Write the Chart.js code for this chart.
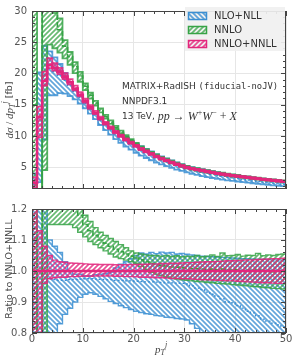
<!DOCTYPE html>
<html>
<head>
<meta charset="utf-8">
<script src="https://cdn.jsdelivr.net/npm/chart.js@4.4.1/dist/chart.umd.min.js"></script>
<style>
  html, body { margin: 0; padding: 0; background: #fff; }
  #wrap { position: relative; width: 293px; height: 358px; }
  canvas { position: absolute; left: 0; }
  #top { top: 0; }
  #bottom { top: 198px; }
</style>
</head>
<body>
<div id="wrap">
  <canvas id="top" width="293" height="200"></canvas>
  <canvas id="bottom" width="293" height="160"></canvas>
</div>
<script>
'use strict';

// bin edges in p_T^j [GeV], 1 GeV bins
var binEdges = [0, 1, 2, 3, 4, 5, 6, 7, 8, 9, 10, 11, 12, 13, 14, 15, 16, 17, 18, 19, 20,
  21, 22, 23, 24, 25, 26, 27, 28, 29, 30, 31, 32, 33, 34, 35, 36, 37, 38, 39, 40,
  41, 42, 43, 44, 45, 46, 47, 48, 49, 50];
var xTicks = [0, 10, 20, 30, 40, 50];
var topTicks = [5, 10, 15, 20, 25, 30];
var ratioTicks = [0.8, 0.9, 1.0, 1.1, 1.2];

// NNLO+NNLL central value, dsigma/dpT [fb]
var nnllCentral = [2.5, 13.0, 18.8, 21.4, 20.9, 20.3, 19.5, 18.6, 17.6, 16.6,
  15.6, 14.6, 13.7, 12.8, 12.0, 11.3, 10.6, 10.0, 9.4, 8.9,
  8.4, 7.9, 7.5, 7.1, 6.7, 6.35, 6.05, 5.75, 5.45, 5.2,
  4.95, 4.75, 4.6, 4.45, 4.3, 4.15, 4.0, 3.88, 3.76, 3.65,
  3.55, 3.45, 3.35, 3.25, 3.15, 3.06, 2.97, 2.88, 2.8, 2.72];

// everything below is a ratio to the NNLO+NNLL central value
var nnllMid = nnllCentral.map(function () { return 1; });
var nnllHi = [1.35, 1.13, 1.08, 1.05, 1.035, 1.03, 1.028, 1.026, 1.025, 1.024,
  1.023, 1.022, 1.022, 1.021, 1.021, 1.021, 1.02, 1.02, 1.02, 1.021,
  1.021, 1.022, 1.022, 1.023, 1.023, 1.024, 1.024, 1.025, 1.025, 1.026,
  1.027, 1.027, 1.028, 1.029, 1.03, 1.03, 1.031, 1.032, 1.033, 1.033,
  1.034, 1.035, 1.036, 1.036, 1.037, 1.038, 1.039, 1.04, 1.04, 1.041];
var nnllLo = [0.7, 0.75, 0.96, 0.975, 0.978, 0.98, 0.98, 0.982, 0.982, 0.983,
  0.983, 0.983, 0.984, 0.984, 0.984, 0.984, 0.983, 0.983, 0.982, 0.982,
  0.981, 0.98, 0.98, 0.979, 0.978, 0.978, 0.977, 0.976, 0.976, 0.975,
  0.975, 0.974, 0.973, 0.972, 0.972, 0.971, 0.97, 0.969, 0.968, 0.968,
  0.967, 0.966, 0.965, 0.964, 0.963, 0.962, 0.962, 0.961, 0.96, 0.96];

var nnloMid = [6.0, 0.04, 2.0, 1.5, 1.42, 1.33, 1.25, 1.22, 1.2, 1.18,
  1.15, 1.13, 1.115, 1.1, 1.09, 1.08, 1.07, 1.062, 1.055, 1.048,
  1.042, 1.036, 1.03, 1.025, 1.021, 1.018, 1.016, 1.013, 1.012, 1.01,
  1.009, 1.008, 1.008, 1.006, 1.005, 1.006, 1.004, 1.006, 1.003, 1.003,
  1.004, 1.001, 1.002, 1.0, 1.003, 0.999, 1.0, 0.998, 0.999, 0.998];
var nnloHi = [14, 0.08, 2.6, 1.6, 1.5, 1.42, 1.3, 1.26, 1.24, 1.22,
  1.18, 1.16, 1.14, 1.125, 1.115, 1.105, 1.095, 1.085, 1.075, 1.065,
  1.058, 1.055, 1.052, 1.05, 1.05, 1.048, 1.05, 1.047, 1.049, 1.046,
  1.048, 1.047, 1.05, 1.046, 1.048, 1.052, 1.047, 1.058, 1.049, 1.05,
  1.053, 1.048, 1.051, 1.05, 1.057, 1.049, 1.052, 1.05, 1.053, 1.055];
var nnloLo = [-2, -0.2, 0.24, 1.15, 1.15, 1.15, 1.15, 1.15, 1.14, 1.125,
  1.11, 1.095, 1.085, 1.075, 1.065, 1.055, 1.045, 1.04, 1.035, 1.03,
  1.025, 1.015, 1.005, 0.996, 0.99, 0.985, 0.98, 0.977, 0.974, 0.972,
  0.97, 0.968, 0.966, 0.965, 0.963, 0.962, 0.96, 0.959, 0.958, 0.956,
  0.955, 0.953, 0.952, 0.95, 0.949, 0.947, 0.946, 0.944, 0.943, 0.942];

var nllMid = [0.9, 0.95, 1.05, 0.975, 0.972, 0.97, 0.97, 0.972, 0.973, 0.974,
  0.975, 0.975, 0.974, 0.973, 0.972, 0.972, 0.97, 0.97, 0.968, 0.968,
  0.967, 0.966, 0.965, 0.965, 0.964, 0.963, 0.962, 0.962, 0.961, 0.96,
  0.958, 0.952, 0.945, 0.94, 0.932, 0.925, 0.918, 0.91, 0.9, 0.897,
  0.888, 0.88, 0.87, 0.865, 0.855, 0.845, 0.838, 0.832, 0.826, 0.82];
var nllHi = [1.6, 1.55, 1.3, 1.1, 1.08, 1.06, 1.03, 1.0, 0.99, 0.99,
  0.985, 0.985, 0.988, 0.99, 0.992, 0.997, 1.01, 1.022, 1.03, 1.04,
  1.05, 1.058, 1.055, 1.06, 1.056, 1.061, 1.058, 1.06, 1.055, 1.057,
  1.054, 1.052, 1.05, 1.048, 1.047, 1.046, 1.045, 1.044, 1.043, 1.042,
  1.041, 1.04, 1.04, 1.039, 1.038, 1.038, 1.037, 1.036, 1.036, 1.035];
var nllLo = [0.4, 0.2, 0.5, 0.77, 0.79, 0.83, 0.86, 0.88, 0.9, 0.915,
  0.925, 0.93, 0.925, 0.918, 0.91, 0.902, 0.895, 0.888, 0.882, 0.876,
  0.87, 0.866, 0.862, 0.86, 0.856, 0.855, 0.851, 0.85, 0.847, 0.845,
  0.842, 0.83, 0.815, 0.8, 0.79, 0.785, 0.78, 0.775, 0.77, 0.765,
  0.76, 0.755, 0.75, 0.745, 0.74, 0.735, 0.73, 0.725, 0.72, 0.715];

var SANS = '"DejaVu Sans", sans-serif';
var MONO = '"DejaVu Sans Mono", monospace';
var SERIF = '"Liberation Serif", serif';
var GRID = '#e6e6e6';
var TICKTXT = '#555';

function hatch(color, dir, s) {
  var c = document.createElement('canvas');
  c.width = s; c.height = s;
  var g = c.getContext('2d');
  g.strokeStyle = color;
  g.lineWidth = 1.7;
  g.beginPath();
  for (var k = -1; k <= 2; k++) {
    var d = k * s;
    if (dir > 0) { g.moveTo(d + 1, -1); g.lineTo(-1, d + 1); }
    else { g.moveTo(d - s - 1, -1); g.lineTo(d + 1, s + 1); }
  }
  g.stroke();
  return g.createPattern(c, 'repeat');
}

var series = [
  { name: 'NNLO+NNLL', color: '#e3267c', edge: 'rgba(227,38,124,0.85)', pat: hatch('rgba(227,38,124,0.8)', 1, 5),
    mid: nnllMid, hi: nnllHi, lo: nnllLo, order: 1, dash: [], midW: 2.6 },
  { name: 'NNLO', color: '#36a346', edge: 'rgba(54,163,70,0.85)', pat: hatch('rgba(54,163,70,0.75)', 1, 5),
    mid: nnloMid, hi: nnloHi, lo: nnloLo, order: 2, dash: [5, 2], midW: 1.6 },
  { name: 'NLO+NLL', color: '#3b8fd2', edge: 'rgba(59,143,210,0.85)', pat: hatch('rgba(59,143,210,0.8)', -1, 5),
    mid: nllMid, hi: nllHi, lo: nllLo, order: 3, dash: [2, 2], midW: 1.3 }
];

// points at left bin edges, drawn as steps
function steps(vals) {
  var pts = vals.map(function (v, i) { return { x: binEdges[i], y: v }; });
  pts.push({ x: binEdges[vals.length], y: vals[vals.length - 1] });
  return pts;
}

function makeSets(absolute, edgeW) {
  var sets = [];
  series.forEach(function (s) {
    var f = function (r, i) { return absolute ? r * nnllCentral[i] : r; };
    sets.push({ label: s.name, data: steps(s.mid.map(f)), borderColor: s.color, borderWidth: s.midW,
      borderDash: s.dash, fill: false, order: s.order });
    sets.push({ label: s.name + ' up', data: steps(s.hi.map(f)), borderColor: s.edge, borderWidth: edgeW,
      fill: '+1', backgroundColor: s.pat, order: s.order });
    sets.push({ label: s.name + ' down', data: steps(s.lo.map(f)), borderColor: s.edge, borderWidth: edgeW,
      fill: false, order: s.order });
  });
  return sets;
}

function richWidth(ctx, parts) {
  var w = 0;
  parts.forEach(function (p) { ctx.font = p[1]; w += ctx.measureText(p[0]).width; });
  return w;
}
function drawRich(ctx, parts, x, y) {
  parts.forEach(function (p) {
    ctx.font = p[1];
    ctx.fillText(p[0], x, y + (p[2] || 0));
    x += ctx.measureText(p[0]).width;
  });
}
function drawRotated(ctx, parts, cx, cy) {
  ctx.save();
  ctx.translate(cx, cy);
  ctx.rotate(-Math.PI / 2);
  ctx.textBaseline = 'middle';
  drawRich(ctx, parts, -richWidth(ctx, parts) / 2, 0);
  ctx.restore();
}

// inward ticks on all four sides + frame
var frameTicks = {
  id: 'frameTicks',
  afterDraw: function (chart, args, o) {
    var ctx = chart.ctx, a = chart.chartArea, x = chart.scales.x, y = chart.scales.y;
    ctx.save();
    ctx.strokeStyle = '#444';
    ctx.lineWidth = 1;
    ctx.beginPath();
    for (var i = 0; i <= 25; i++) {
      var px = Math.round(x.getPixelForValue(i * 2)) + 0.5;
      var len = (i % 5 === 0) ? 5 : 3;
      ctx.moveTo(px, a.top); ctx.lineTo(px, a.top + len);
      ctx.moveTo(px, a.bottom); ctx.lineTo(px, a.bottom - len);
    }
    var n = Math.round((o.max - o.min) / o.minor);
    for (var j = 0; j <= n; j++) {
      var v = o.min + j * o.minor;
      var py = Math.round(y.getPixelForValue(v)) + 0.5;
      var q = v / o.major;
      var l = Math.abs(q - Math.round(q)) < 1e-6 ? 5 : 3;
      ctx.moveTo(a.left, py); ctx.lineTo(a.left + l, py);
      ctx.moveTo(a.right, py); ctx.lineTo(a.right - l, py);
    }
    ctx.stroke();
    ctx.strokeRect(a.left + 0.5, a.top + 0.5, a.right - a.left - 1, a.bottom - a.top - 1);
    ctx.restore();
  }
};

var topText = {
  id: 'topText',
  afterDraw: function (chart) {
    var ctx = chart.ctx;
    ctx.save();
    // legend
    ctx.fillStyle = 'rgba(240,240,240,0.92)';
    ctx.fillRect(185, 7, 100, 44);
    var legend = [series[2], series[1], series[0]];
    legend.forEach(function (s, i) {
      var y = 16 + i * 14;
      ctx.fillStyle = s.pat;
      ctx.fillRect(188, y - 4, 19, 8);
      ctx.strokeStyle = s.color;
      ctx.lineWidth = 1.5;
      ctx.strokeRect(188.5, y - 3.5, 18, 7);
      ctx.fillStyle = '#333';
      ctx.font = '10px ' + SANS;
      ctx.textBaseline = 'middle';
      ctx.fillText(s.name, 214, y);
    });
    // annotations
    ctx.fillStyle = '#333';
    ctx.textBaseline = 'middle';
    drawRich(ctx, [['MATRIX+RadISH ', '9px ' + SANS], ['(fiducial-noJV)', '8.8px ' + MONO]], 122, 87);
    drawRich(ctx, [['NNPDF3.1', '9px ' + SANS]], 122, 102);
    var mi = 'italic 12px ' + SERIF, up = '12px ' + SERIF, sm = '8px ' + SERIF;
    drawRich(ctx, [['13 TeV, ', '9px ' + SANS], ['pp', mi], [' \u2192 ', up], ['W', mi], ['+', sm, -4],
      ['W', mi], ['\u2212', sm, -4], [' + ', up], ['X', mi]], 122, 117);
    // y title
    ctx.fillStyle = '#444';
    var yi = 'italic 11px ' + SERIF;
    drawRotated(ctx, [['d\u03c3', yi], [' / ', '11px ' + SERIF], ['dp', yi], ['T', 'italic 8px ' + SERIF, 3],
      ['j', 'italic 8px ' + SERIF, -5], [' [fb]', '9.5px ' + SANS]], 10, 110);
    ctx.restore();
  }
};

var bottomText = {
  id: 'bottomText',
  afterDraw: function (chart) {
    var ctx = chart.ctx;
    ctx.save();
    ctx.fillStyle = '#444';
    drawRotated(ctx, [['Ratio to NNLO+NNLL', '9.5px ' + SANS]], 10, 71);
    ctx.textBaseline = 'middle';
    var parts = [['p', 'italic 11px ' + SERIF], ['T', 'italic 8px ' + SERIF, 3], ['j', 'italic 8px ' + SERIF, -5]];
    drawRich(ctx, parts, 155, 152);
    ctx.restore();
  }
};

function baseOptions(pad, yScale, tickOpts) {
  return {
    responsive: false,
    animation: false,
    devicePixelRatio: 1,
    layout: { padding: pad },
    elements: { point: { radius: 0 }, line: { tension: 0, stepped: 'before' } },
    datasets: { line: { clip: 0 } },
    plugins: { legend: { display: false }, tooltip: { enabled: false }, frameTicks: tickOpts },
    scales: {
      x: {
        type: 'linear', min: 0, max: 50,
        afterBuildTicks: function (s) { s.ticks = xTicks.map(function (v) { return { value: v }; }); },
        grid: { color: GRID, drawTicks: false },
        border: { display: false },
        ticks: { display: false }
      },
      y: yScale
    }
  };
}

var topOpts = baseOptions({ top: 5, right: 7, bottom: 7, left: 0 }, {
  type: 'linear', min: 1.5, max: 30,
  afterBuildTicks: function (s) { s.ticks = topTicks.map(function (v) { return { value: v }; }); },
  afterFit: function (s) { s.width = 32; },
  grid: { color: GRID, drawTicks: false },
  border: { display: false },
  ticks: { color: TICKTXT, font: { family: SANS, size: 10 }, padding: 5 }
}, { min: 2, max: 30, minor: 1, major: 5 });
topOpts.scales.x.afterFit = function (s) { s.height = 0; };

var bottomOpts = baseOptions({ top: 7, right: 7, bottom: 0, left: 0 }, {
  type: 'linear', min: 0.8, max: 1.2,
  afterBuildTicks: function (s) { s.ticks = ratioTicks.map(function (v) { return { value: v }; }); },
  afterFit: function (s) { s.width = 32; },
  grid: { color: GRID, drawTicks: false },
  border: { display: false },
  ticks: { color: TICKTXT, font: { family: SANS, size: 10 }, padding: 5,
    callback: function (v) { return Number(v).toFixed(1); } }
}, { min: 0.8, max: 1.2, minor: 0.02, major: 0.1 });
bottomOpts.scales.x.ticks = { display: true, color: TICKTXT, font: { family: SANS, size: 10 }, padding: 0, maxRotation: 0 };
bottomOpts.scales.x.afterFit = function (s) { s.height = 25; };

new Chart(document.getElementById('top').getContext('2d'), {
  type: 'line',
  data: { datasets: makeSets(true, 1.8) },
  options: topOpts,
  plugins: [frameTicks, topText]
});

new Chart(document.getElementById('bottom').getContext('2d'), {
  type: 'line',
  data: { datasets: makeSets(false, 1.4) },
  options: bottomOpts,
  plugins: [frameTicks, bottomText]
});
</script>
</body>
</html>
